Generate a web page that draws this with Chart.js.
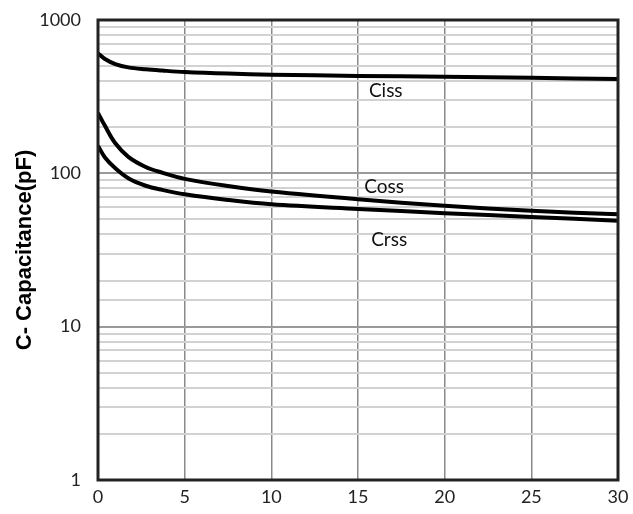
<!DOCTYPE html>
<html>
<head>
<meta charset="utf-8">
<script src="https://cdn.jsdelivr.net/npm/chart.js@4"></script>
<style>
  html, body { margin: 0; padding: 0; background: #fff; }
  #wrap { width: 633px; height: 514px; }
</style>
</head>
<body>
<div id="wrap"><canvas id="c" width="633" height="514"></canvas></div>
<script>
const vds  = [0, 0.4, 1, 1.75, 2.75, 3.7, 5, 7.5, 10, 15, 20, 25, 30];
const ciss = [607, 557, 516, 491, 477, 468, 458, 447, 440, 432, 427, 420, 412];
const coss = [248, 204, 157, 128, 110, 101, 92, 82.6, 76, 67.7, 61.5, 57, 54];
const crss = [151, 127, 108, 93, 83, 78, 73, 67, 62.8, 58.6, 55, 52, 49];
const yDecadeLabels = [1, 10, 100, 1000];
const seriesNames = ['Ciss', 'Coss', 'Crss'];
const labelAnchorsX = [16.6, 16.5, 16.8];
const labelAnchorsY = [344, 81.5, 36.7];

const toPts = arr => vds.map((x, i) => ({ x: x, y: arr[i] }));
const mk = (name, arr) => ({
  label: name, data: toPts(arr), borderColor: '#000', borderWidth: 4,
  pointRadius: 0, fill: false, tension: 0.35
});

const frame = {
  id: 'frame',
  afterDatasetsDraw(chart) {
    const a = chart.chartArea, ctx = chart.ctx;
    ctx.save();
    ctx.strokeStyle = '#222';
    ctx.lineWidth = 3;
    ctx.strokeRect(a.left, a.top, a.right - a.left, a.bottom - a.top);
    const xs = chart.scales.x, ys = chart.scales.y;
    ctx.fillStyle = '#111';
    ctx.font = '19px Lato, "Open Sans", sans-serif';
    ctx.textAlign = 'center';
    ctx.textBaseline = 'middle';
    seriesNames.forEach((n, i) => {
      ctx.fillText(n, xs.getPixelForValue(labelAnchorsX[i]), ys.getPixelForValue(labelAnchorsY[i]));
    });
    ctx.restore();
  }
};

new Chart(document.getElementById('c'), {
  type: 'line',
  data: { datasets: [mk('Ciss', ciss), mk('Coss', coss), mk('Crss', crss)] },
  plugins: [frame],
  options: {
    responsive: false,
    animation: false,
    layout: { padding: { top: 20, right: 15, left: 0, bottom: 0 } },
    plugins: { legend: { display: false }, tooltip: { enabled: false } },
    scales: {
      x: {
        type: 'linear', min: 0, max: 30,
        ticks: { stepSize: 5, color: '#222', font: { size: 18, family: 'Lato, "Open Sans", sans-serif' }, padding: 6, maxRotation: 0 },
        grid: { color: '#8a8a8a', lineWidth: 1.5, drawTicks: false },
        border: { display: false },
        afterFit(s) { s.height = 34; s.paddingLeft = 0; s.paddingRight = 0; }
      },
      y: {
        type: 'logarithmic', min: 1, max: 1000,
        ticks: {
          autoSkip: false, color: '#222', padding: 17,
          font: { size: 18, family: 'Lato, "Open Sans", sans-serif' },
          callback: v => yDecadeLabels.includes(v) ? String(v) : ''
        },
        grid: {
          drawTicks: false,
          color: c => yDecadeLabels.includes(c.tick && c.tick.value) ? '#9a9a9a' : '#d2d2d2',
          lineWidth: 2
        },
        border: { display: false },
        title: {
          display: true, text: 'C- Capacitance(pF)', color: '#000',
          font: { size: 22, weight: 'bold', family: '"Liberation Sans", Arial, sans-serif' },
          padding: { top: 12, bottom: 0 }
        },
        afterFit(s) { s.width = 98; s.paddingTop = 0; s.paddingBottom = 0; }
      }
    }
  }
});
</script>
</body>
</html>
